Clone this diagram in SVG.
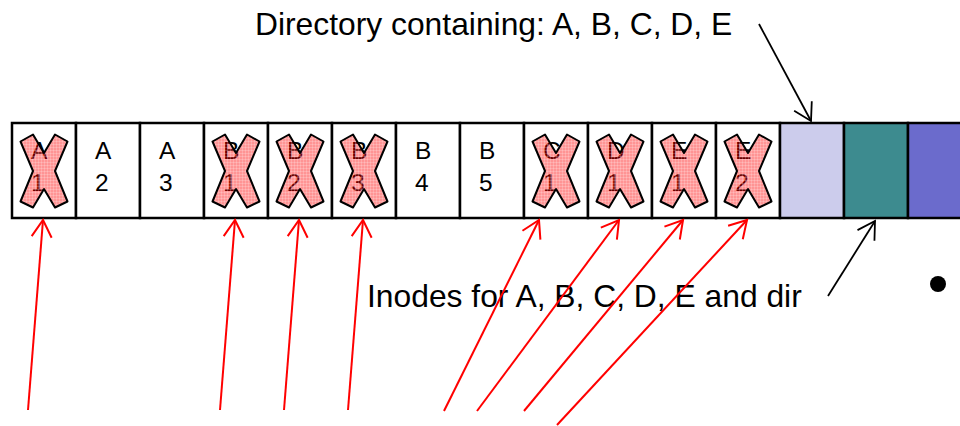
<svg xmlns="http://www.w3.org/2000/svg" width="960" height="426" viewBox="0 0 960 426">
  <defs>
    <style>
      .cell { stroke: #000; stroke-width: 2.5; }
      .blank { fill: #fff; }
      .dir { fill: #ccccec; }
      .inode { fill: #3d8b8f; }
      .free { fill: #6b6bcc; }
      .lbl { font-family: "Liberation Sans", Arial, sans-serif; font-size: 24.5px; fill: #000; }
      .cap { font-family: "Liberation Sans", Arial, sans-serif; font-size: 31.8px; fill: #000; }
      .cross { fill: url(#hatch); stroke: #000; stroke-width: 2; stroke-linejoin: round; }
      .red { stroke: #ff0000; stroke-width: 2; fill: none; }
      .blk { stroke: #000; stroke-width: 1.8; fill: none; }
    </style>
    <!-- translucent red check used to strike out deleted blocks -->
    <pattern id="hatch" width="3" height="3" patternUnits="userSpaceOnUse">
      <rect width="3" height="3" fill="#ff0000" fill-opacity="0.42"/>
      <path d="M0,0.5H3M0.5,0V3" stroke="#fff" stroke-width="0.7" stroke-opacity="0.28"/>
    </pattern>
    <polygon id="x" points="-23.5,-29.5 -11,-36.5 0,-18 11,-36.5 23.5,-29.5 11,0 23.5,30.5 11,36.5 0,18 -11,36.5 -23.5,30.5 -11,0"/>
    <marker id="ahRed" markerUnits="userSpaceOnUse" orient="auto" markerWidth="40" markerHeight="40" viewBox="-20 -20 40 40" refX="0" refY="0" overflow="visible">
      <path d="M-17,-10L0,0L-17,10" fill="none" stroke="#ff0000" stroke-width="2"/>
    </marker>
    <marker id="ahBlk" markerUnits="userSpaceOnUse" orient="auto" markerWidth="40" markerHeight="40" viewBox="-20 -20 40 40" refX="0" refY="0" overflow="visible">
      <path d="M-17,-10L0,0L-17,10" fill="none" stroke="#000" stroke-width="1.8"/>
    </marker>
  </defs>

  <rect width="960" height="426" fill="#fff"/>

  <!-- disk blocks -->
  <g id="A1"><rect class="cell blank" x="12" y="123" width="64" height="95"/><text class="lbl" x="31" y="159">A</text><text class="lbl" x="31" y="191">1</text><use href="#x" class="cross" x="44" y="171"/></g>
  <g id="A2"><rect class="cell blank" x="76" y="123" width="64" height="95"/><text class="lbl" x="95" y="159">A</text><text class="lbl" x="95" y="191">2</text></g>
  <g id="A3"><rect class="cell blank" x="140" y="123" width="64" height="95"/><text class="lbl" x="159" y="159">A</text><text class="lbl" x="159" y="191">3</text></g>
  <g id="B1"><rect class="cell blank" x="204" y="123" width="64" height="95"/><text class="lbl" x="223" y="159">B</text><text class="lbl" x="223" y="191">1</text><use href="#x" class="cross" x="236" y="171"/></g>
  <g id="B2"><rect class="cell blank" x="268" y="123" width="64" height="95"/><text class="lbl" x="287" y="159">B</text><text class="lbl" x="287" y="191">2</text><use href="#x" class="cross" x="300" y="171"/></g>
  <g id="B3"><rect class="cell blank" x="332" y="123" width="64" height="95"/><text class="lbl" x="351" y="159">B</text><text class="lbl" x="351" y="191">3</text><use href="#x" class="cross" x="364" y="171"/></g>
  <g id="B4"><rect class="cell blank" x="396" y="123" width="64" height="95"/><text class="lbl" x="415" y="159">B</text><text class="lbl" x="415" y="191">4</text></g>
  <g id="B5"><rect class="cell blank" x="460" y="123" width="64" height="95"/><text class="lbl" x="479" y="159">B</text><text class="lbl" x="479" y="191">5</text></g>
  <g id="C1"><rect class="cell blank" x="524" y="123" width="64" height="95"/><text class="lbl" x="543" y="159">C</text><text class="lbl" x="543" y="191">1</text><use href="#x" class="cross" x="556" y="171"/></g>
  <g id="D1"><rect class="cell blank" x="588" y="123" width="64" height="95"/><text class="lbl" x="607" y="159">D</text><text class="lbl" x="607" y="191">1</text><use href="#x" class="cross" x="620" y="171"/></g>
  <g id="E1"><rect class="cell blank" x="652" y="123" width="64" height="95"/><text class="lbl" x="671" y="159">E</text><text class="lbl" x="671" y="191">1</text><use href="#x" class="cross" x="684" y="171"/></g>
  <g id="E2"><rect class="cell blank" x="716" y="123" width="64" height="95"/><text class="lbl" x="735" y="159">E</text><text class="lbl" x="735" y="191">2</text><use href="#x" class="cross" x="748" y="171"/></g>
  <g id="dir-block"><rect class="cell dir" x="780" y="123" width="64" height="95"/></g>
  <g id="inode-block"><rect class="cell inode" x="844" y="123" width="64" height="95"/></g>
  <g id="free-block"><rect class="cell free" x="908" y="123" width="64" height="95"/></g>

  <!-- captions -->
  <g id="dir-label"><text class="cap" x="255" y="35">Directory containing: A, B, C, D, E</text></g>
  <g id="inode-label"><text class="cap" x="367" y="307">Inodes for A, B, C, D, E and dir</text></g>
  <g id="bullet"><circle cx="938" cy="284" r="8" fill="#000"/></g>

  <!-- pointers -->
  <g id="connectors">
    <line class="red" x1="28" y1="410" x2="43" y2="220" marker-end="url(#ahRed)"/>
    <line class="red" x1="220" y1="410" x2="235" y2="220" marker-end="url(#ahRed)"/>
    <line class="red" x1="284" y1="410" x2="299" y2="220" marker-end="url(#ahRed)"/>
    <line class="red" x1="348" y1="410" x2="363" y2="220" marker-end="url(#ahRed)"/>
    <line class="red" x1="444" y1="411" x2="539" y2="220" marker-end="url(#ahRed)"/>
    <line class="red" x1="477" y1="411" x2="619" y2="220" marker-end="url(#ahRed)"/>
    <line class="red" x1="524" y1="411" x2="683" y2="220" marker-end="url(#ahRed)"/>
    <line class="red" x1="557" y1="425" x2="747" y2="220" marker-end="url(#ahRed)"/>
    <line class="blk" x1="759" y1="24" x2="811" y2="121" marker-end="url(#ahBlk)"/>
    <line class="blk" x1="828" y1="296" x2="875" y2="221" marker-end="url(#ahBlk)"/>
  </g>
</svg>
